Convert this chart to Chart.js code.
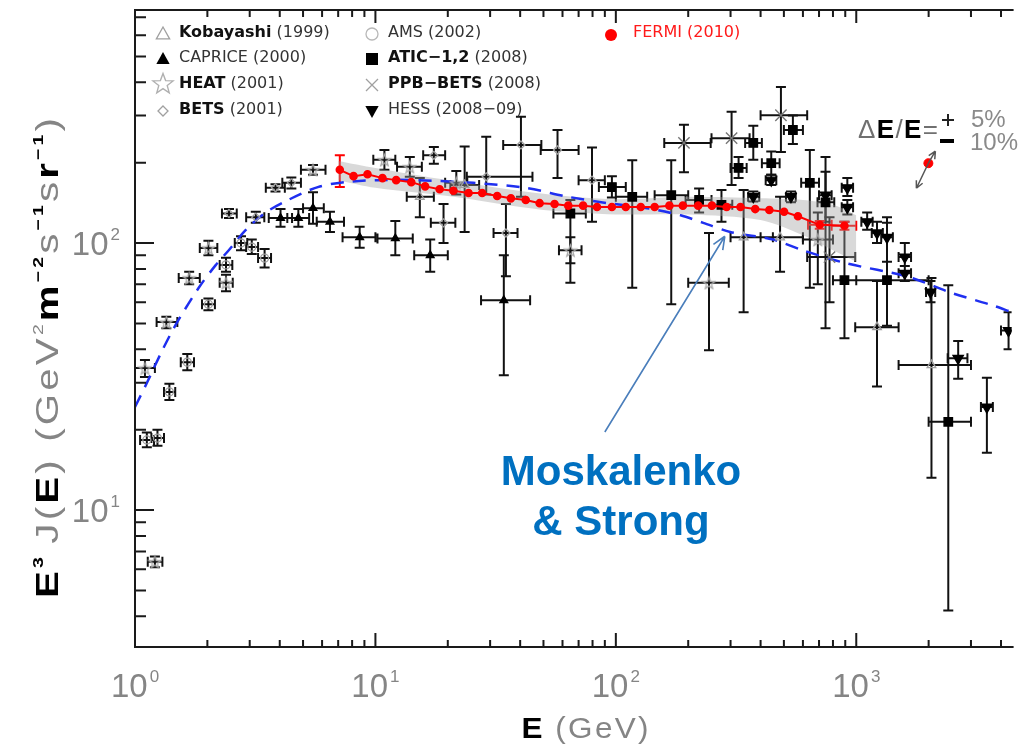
<!DOCTYPE html>
<html><head><meta charset="utf-8">
<script src="https://cdn.jsdelivr.net/npm/chart.js@4.4.1/dist/chart.umd.min.js"></script>
<style>html,body{margin:0;padding:0;background:#fff;overflow:hidden}canvas{display:block}</style>
</head><body>
<canvas id="c" width="1021" height="746"></canvas>
<script>
// ---- axis ticks ----
const xMajor = [1, 10, 100, 1000];
const xMinor = [2,3,4,5,6,7,8,9,20,30,40,50,60,70,80,90,200,300,400,500,600,700,800,900,2000,3000,4000];
const yMajor = [10, 100];
const yMinor = [4,5,6,7,8,9,20,30,40,50,60,70,80,90,200,300,400,500,600,700];
const xTickExp = ['0','1','2','3'];
const yTickExp = ['1','2'];

// ---- data rows: [E, E3J, Elo, Ehi, lo, hi] ----
const kobayashi = [
 [15.3,149,13.5,17.5,125,175],
 [23.5,165,20.5,27,110,230],
 [340,105,300,450,55,158],
 [482,105,400,600,78,149],
 [1220,48.4,990,1500,29,72],
 [2055,34.9,1500,3000,13.2,74]
];
const caprice = [
 [4.03,124,3.6,4.5,115,134],
 [4.78,124,4.3,5.3,115,134],
 [5.5,135,5.0,6.1,118,155],
 [6.47,120,5.7,7.4,110,131],
 [8.6,105,7.3,10.0,96,115],
 [12.1,104,10.2,14.3,90,121],
 [16.9,90,14.5,20,78,103],
 [34.2,61,27.5,44,32,90]
];
const heat = [
 [1.10,34,1.0,1.21,31.5,36.5],
 [1.21,6.4,1.13,1.30,6.1,6.7],
 [1.35,50.6,1.23,1.50,48,53],
 [1.68,74,1.52,1.86,70,78],
 [2.02,95.8,1.86,2.2,90,102],
 [2.39,71,2.25,2.55,66,76],
 [5.5,188,4.9,6.2,180,196],
 [10.9,205,9.8,12.1,188,223],
 [13.9,193,12.3,15.6,177,210],
 [21.7,168,19.5,24.1,152,186],
 [64.7,94,58,72,84,105],
 [244,71,200,295,39.7,109],
 [692,103,600,800,70,130]
];
const bets = [
 [2.46,129,2.3,2.65,124,134],
 [3.18,125,2.9,3.45,119,131],
 [3.84,161,3.5,4.2,156,166],
 [4.47,168,4.1,4.9,160,176],
 [17.5,213,15.8,19.5,198,229],
 [19.2,119,17,21.5,100,140],
 [28.9,177,24,45,152,250],
 [34.9,109,31,39,75,140],
 [40.3,233,34,49,149,297],
 [57.2,223,48.7,70,175,265],
 [79.6,172,70,90,120,228]
];
const ams = [
 [1.12,18.3,1.05,1.2,17.2,19.5],
 [1.24,18.6,1.17,1.32,17.4,20],
 [1.39,27.7,1.32,1.47,25.8,29.7],
 [1.65,35.8,1.55,1.76,33.4,38.4],
 [2.02,59,1.9,2.15,56,62],
 [2.39,82.8,2.25,2.54,78,88],
 [2.76,100,2.6,2.93,94,106],
 [3.06,96.6,2.9,3.25,91,103],
 [3.46,87.8,3.25,3.68,81,95]
];
const atic = [
 [64.7,129,55,75,71,145],
 [96.3,162,85,110,148,178],
 [117,149,100,135,68,204],
 [170,151,145,200,59,204],
 [222,145,195,250,130,160],
 [275,139,250,305,120,158],
 [324,191,300,350,175,210],
 [373,237,345,405,205,275],
 [443,199,405,480,180,220],
 [545,265,500,600,235,300],
 [641,168,590,700,68,223],
 [745,142,690,810,48,210],
 [893,72.6,800,1000,44,120],
 [1342,72.6,800,2000,49,119],
 [2414,21.4,2000,3000,4.2,69.5]
];
const ppb = [
 [192,237,159,248,184,277],
 [303,247,250,360,165,310],
 [486,301,400,625,219,384],
 [774,88.6,625,990,60,125]
];
const hess = [
 [373,149,355,395,143,156],
 [443,172,420,465,165,180],
 [535,149,510,560,142,156],
 [745,151,700,790,120,185],
 [918,161,870,970,150,175],
 [918,136,870,970,128,145],
 [1110,120,1050,1170,112,130],
 [1220,109,1160,1290,100,120],
 [1342,105,1270,1420,85,125],
 [1592,88.6,1500,1690,78,100],
 [1592,77,1500,1690,72,82],
 [2036,65.5,1950,2130,60,72],
 [2654,37,2400,2900,31,43],
 [3494,24.3,3300,3700,16.4,31.3],
 [4300,47,4000,4600,40,55]
];
// Fermi 2010
const fermiE = [7.11,8.11,9.27,10.7,12.2,14.1,16.1,18.5,21.1,24.4,27.8,32.1,36.6,42.2,48.2,55.6,63.4,73.1,83.5,96.3,110,127,145,167,190,220,251,289,330,380,435,501,572,705,893];
const fermiV = [188,178,181,175,172,169,163,159,157,154,154,150,147,145,141,140,138,138,136.5,136.5,136.5,136.5,136.5,138,138,138,138,136.5,136.5,134,133,131,126,117,116];
const fermiErr = [
 [7.11,188,7.11,7.11,162,213],
 [705,117,630,790,113,121],
 [893,116,790,1000,112,120]
];
const fermiShift = [[1995,199]];
// systematic band
const bandE  = [7,10,20,50,100,200,400,600,800,1000];
const bandHi = [203,191,172,153,146,149,147,145,139,127];
const bandLo = [172,161,150,133,128,128,122,107,94,85];
// Moskalenko & Strong model
const msE = [1.0,1.12,1.30,1.49,1.85,2.17,2.46,2.89,3.49,4.34,5.76,7.45,10.2,14.9,25.5,42.0,63.2,92.5,135,186,231,299,451,595,903,1654,2494,3650,4430];
const msV = [24.3,29.9,39.7,50.1,68.4,82.8,94.2,112,130,145,162,169,172,172,168,161,149,141,135,127,119,110,103,94.1,84.1,74.6,65,58.6,55.1];
// annotation arrow (data coords)
const arrowFrom = [90, 19.6];
const arrowTo = [284, 106];

// ---- marker helpers ----
function starCanvas(size, color, lw){
  const c = document.createElement('canvas'); c.width = c.height = size;
  const g = c.getContext('2d'); g.strokeStyle = color; g.lineWidth = lw; g.lineJoin='miter';
  const cx = size/2, cy = size/2 + size*0.05, R = size/2 - lw, r = R*0.42;
  g.beginPath();
  for (let i=0;i<10;i++){ const a=-Math.PI/2+i*Math.PI/5; const rr=i%2?r:R; g.lineTo(cx+rr*Math.cos(a), cy+rr*Math.sin(a)); }
  g.closePath(); g.stroke(); return c;
}
const starSmall = starCanvas(15, '#a8a8a8', 1.3);
const starBig = starCanvas(24, '#b0b0b0', 1.4);

const toPts = rows => rows.map(r => ({x:r[0], y:r[1]}));
const gray = '#a0a0a0';

function marker(ctx, style, x, y, r, fill, stroke, rot){
  ctx.save(); ctx.translate(x,y); if(rot) ctx.rotate(rot*Math.PI/180);
  ctx.beginPath();
  if (style==='triangle'){ ctx.moveTo(0,-r); ctx.lineTo(r*0.95,r*0.7); ctx.lineTo(-r*0.95,r*0.7); ctx.closePath(); }
  else if (style==='rect'){ ctx.rect(-r,-r,2*r,2*r); }
  else if (style==='rectRot'){ ctx.moveTo(0,-r); ctx.lineTo(r,0); ctx.lineTo(0,r); ctx.lineTo(-r,0); ctx.closePath(); }
  else if (style==='circle'){ ctx.arc(0,0,r,0,Math.PI*2); }
  else if (style==='crossRot'){ ctx.moveTo(-r,-r); ctx.lineTo(r,r); ctx.moveTo(r,-r); ctx.lineTo(-r,r); }
  if (fill){ ctx.fillStyle=fill; ctx.fill(); }
  if (stroke){ ctx.strokeStyle=stroke; ctx.lineWidth=1.3; ctx.stroke(); }
  ctx.restore();
}

function drawErr(ctx, xs, ys, rows, color){
  ctx.strokeStyle = color; ctx.lineWidth = 2; const cap = 5;
  ctx.beginPath();
  for (const r of rows){
    const px = xs.getPixelForValue(r[0]), py = ys.getPixelForValue(r[1]);
    const x1 = xs.getPixelForValue(r[2]), x2 = xs.getPixelForValue(r[3]);
    const y1 = ys.getPixelForValue(r[4]), y2 = ys.getPixelForValue(r[5]);
    if (x2-x1 > 1){ ctx.moveTo(x1,py); ctx.lineTo(x2,py); ctx.moveTo(x1,py-cap); ctx.lineTo(x1,py+cap); ctx.moveTo(x2,py-cap); ctx.lineTo(x2,py+cap); }
    if (y1-y2 > 1){ ctx.moveTo(px,y1); ctx.lineTo(px,y2); ctx.moveTo(px-cap,y1); ctx.lineTo(px+cap,y1); ctx.moveTo(px-cap,y2); ctx.lineTo(px+cap,y2); }
  }
  ctx.stroke();
}

// rich text: fixed glyph scale k, remaining length distributed as letter spacing
function drawRich(ctx, segs, x, y, target, align, k){
  k = k || 1;
  let w = 0, n = 0;
  for (const s of segs){ ctx.font = s.f; s.w = ctx.measureText(s.t).width + (s.gap||0); w += s.w; n += s.t.length; }
  let ls = target ? (target/k - w) / Math.max(1, n-1) : 0;
  if (ls < 0){ k = target/w; ls = 0; }
  const total = w + ls*(n-1);
  ctx.save(); ctx.translate(x,y); ctx.scale(k,1);
  let cx = align==='center' ? -total/2 : 0;
  ctx.textBaseline = 'alphabetic'; ctx.textAlign = 'left';
  for (const s of segs){
    ctx.font = s.f; ctx.fillStyle = s.c;
    for (const ch of s.t){ ctx.fillText(ch, cx, s.dy||0); cx += ctx.measureText(ch).width + ls; }
    cx += (s.gap||0);
  }
  ctx.restore();
}

const F = 'Liberation Sans, Arial, sans-serif';
const LF = 'DejaVu Sans, sans-serif';

const framePlugin = {
  id: 'frame',
  beforeDatasetsDraw(chart){
    const ctx = chart.ctx, xs = chart.scales.x, ys = chart.scales.y, ca = chart.chartArea;
    ctx.save();
    ctx.beginPath(); ctx.rect(ca.left, ca.top, ca.right-ca.left, ca.bottom-ca.top); ctx.clip();
    for (const rows of [kobayashi, caprice, heat, bets, ams, atic, ppb, hess]) drawErr(ctx, xs, ys, rows, '#111');
    drawErr(ctx, xs, ys, fermiErr, '#ff0000');
    ctx.restore();
  },
  afterDraw(chart){
    const ctx = chart.ctx, xs = chart.scales.x, ys = chart.scales.y, ca = chart.chartArea;
    ctx.save();
    // frame
    ctx.strokeStyle = '#1a1a1a'; ctx.lineWidth = 2;
    ctx.beginPath();
    ctx.moveTo(ca.right+2, ca.top); ctx.lineTo(ca.left, ca.top); ctx.lineTo(ca.left, ca.bottom); ctx.lineTo(ca.right+2, ca.bottom);
    ctx.stroke();
    // ticks
    ctx.beginPath();
    for (const v of xMajor){ const p = xs.getPixelForValue(v); ctx.moveTo(p, ca.bottom); ctx.lineTo(p, ca.bottom-14); ctx.moveTo(p, ca.top); ctx.lineTo(p, ca.top+13); }
    for (const v of xMinor){ const p = xs.getPixelForValue(v); ctx.moveTo(p, ca.bottom); ctx.lineTo(p, ca.bottom-7); ctx.moveTo(p, ca.top); ctx.lineTo(p, ca.top+7); }
    for (const v of yMajor){ const p = ys.getPixelForValue(v); ctx.moveTo(ca.left, p); ctx.lineTo(ca.left+19, p); }
    for (const v of yMinor){ const p = ys.getPixelForValue(v); ctx.moveTo(ca.left, p); ctx.lineTo(ca.left+11, p); }
    ctx.stroke();
    // tick labels
    ctx.fillStyle = '#858585'; ctx.textBaseline = 'alphabetic';
    xMajor.forEach((v,i)=>{
      const p = xs.getPixelForValue(v);
      ctx.font = '33px '+F; const w10 = ctx.measureText('10').width;
      ctx.font = '17px '+F; const we = ctx.measureText(xTickExp[i]).width;
      const left = p - (w10+we+2)/2;
      ctx.font = '33px '+F; ctx.textAlign='left'; ctx.fillText('10', left, 697);
      ctx.font = '17px '+F; ctx.fillText(xTickExp[i], left+w10+2, 682);
    });
    yMajor.forEach((v,i)=>{
      const p = ys.getPixelForValue(v);
      ctx.font = '17px '+F; const we = ctx.measureText(yTickExp[i]).width;
      ctx.font = '33px '+F; const w10 = ctx.measureText('10').width;
      const right = 120;
      ctx.textAlign='left';
      ctx.fillText('10', right-we-2-w10, p+12);
      ctx.font = '17px '+F; ctx.fillText(yTickExp[i], right-we, p-3);
    });
    // x title
    drawRich(ctx, [
      {t:'E', f:'bold 30px '+F, c:'#000', gap:10},
      {t:'(GeV)', f:'30px '+F, c:'#858585'}
    ], 585, 738, 127, 'center', 1.05);
    // y title
    ctx.save(); ctx.translate(47, 358); ctx.rotate(-Math.PI/2);
    drawRich(ctx, [
      {t:'E', f:'bold 31px '+F, c:'#000'},
      {t:'3', f:'bold 15px '+F, c:'#000', dy:-15, gap:8},
      {t:'J(', f:'31px '+F, c:'#858585'},
      {t:'E', f:'bold 31px '+F, c:'#000'},
      {t:')', f:'31px '+F, c:'#858585', gap:12},
      {t:'(GeV', f:'31px '+F, c:'#858585'},
      {t:'2', f:'15px '+F, c:'#858585', dy:-15},
      {t:'m', f:'bold 31px '+F, c:'#000'},
      {t:'\u22122', f:'bold 15px '+F, c:'#000', dy:-15},
      {t:'s', f:'31px '+F, c:'#858585'},
      {t:'\u22121', f:'bold 15px '+F, c:'#000', dy:-15},
      {t:'s', f:'31px '+F, c:'#858585'},
      {t:'r', f:'bold 31px '+F, c:'#000'},
      {t:'\u22121', f:'bold 15px '+F, c:'#000', dy:-15},
      {t:')', f:'31px '+F, c:'#858585'}
    ], 0, 11, 480, 'center', 1.3);
    ctx.restore();

    // legend
    const rows = [
      [163, 33, 'triangle', null, gray, 0, 7, 'Kobayashi', true, ' (1999)'],
      [163, 58, 'triangle', '#000', null, 0, 7, 'CAPRICE', false, ' (2000)'],
      [163, 84, 'star', null, null, 0, 0, 'HEAT', true, ' (2001)'],
      [163, 110, 'rectRot', null, gray, 0, 5, 'BETS', true, ' (2001)'],
      [372, 33, 'circle', null, '#b8b8b8', 0, 6, 'AMS', false, ' (2002)'],
      [372, 58, 'rect', '#000', null, 0, 6, 'ATIC\u22121,2', true, ' (2008)'],
      [372, 84, 'crossRot', null, gray, 0, 6, 'PPB\u2212BETS', true, ' (2008)'],
      [372, 110, 'triangle', '#000', null, 180, 7, 'HESS', false, ' (2008\u221209)']
    ];
    ctx.textBaseline = 'middle'; ctx.textAlign = 'left';
    for (const r of rows){
      if (r[2]==='star') ctx.drawImage(starBig, r[0]-12, r[1]-13);
      else marker(ctx, r[2], r[0], r[1]+1, r[6], r[3], r[4], r[5]);
      ctx.font = (r[8]?'bold ':'')+'16px '+LF; ctx.fillStyle = r[8]?'#111':'#333';
      const tx = r[0] + 16;
      ctx.fillText(r[7], tx, r[1]);
      const w = ctx.measureText(r[7]).width;
      ctx.font = '16px '+LF; ctx.fillStyle = '#333';
      ctx.fillText(r[9], tx+w, r[1]);
    }
    marker(ctx, 'circle', 611, 35, 6, '#ff0000', null, 0);
    ctx.font = '16px '+LF; ctx.fillStyle = '#ff1a1a'; ctx.fillText('FERMI (2010)', 633, 33);

    // Delta E / E annotation
    drawRich(ctx, [
      {t:'\u0394', f:'26px '+F, c:'#707070'},
      {t:'E', f:'bold 26px '+F, c:'#000'},
      {t:'/', f:'26px '+F, c:'#707070'},
      {t:'E', f:'bold 26px '+F, c:'#000'},
      {t:'=', f:'26px '+F, c:'#707070'}
    ], 858, 138, 80, 'left', 1);
    ctx.strokeStyle = '#222'; ctx.lineWidth = 2;
    ctx.beginPath(); ctx.moveTo(942,120); ctx.lineTo(954,120); ctx.moveTo(948,114); ctx.lineTo(948,126); ctx.stroke();
    ctx.fillStyle = '#000'; ctx.fillRect(940,139,14,4);
    ctx.font = '24px '+F; ctx.fillStyle = '#8a8a8a'; ctx.textBaseline='alphabetic';
    ctx.fillText('5%', 971, 127); ctx.fillText('10%', 970, 150);
    // shift arrows around the shifted Fermi point
    const sx = xs.getPixelForValue(fermiShift[0][0]), sy = ys.getPixelForValue(fermiShift[0][1]);
    ctx.strokeStyle = '#555'; ctx.lineWidth = 1.5;
    const arr = (x0,y0,x1,y1)=>{ ctx.beginPath(); ctx.moveTo(x0,y0); ctx.lineTo(x1,y1);
      const a = Math.atan2(y1-y0,x1-x0);
      ctx.moveTo(x1,y1); ctx.lineTo(x1-8*Math.cos(a-0.45), y1-8*Math.sin(a-0.45));
      ctx.moveTo(x1,y1); ctx.lineTo(x1-8*Math.cos(a+0.45), y1-8*Math.sin(a+0.45)); ctx.stroke(); };
    arr(sx, sy, sx+7, sy-12);
    arr(sx, sy, sx-12, sy+25);

    // Moskalenko & Strong annotation
    const ax0 = xs.getPixelForValue(arrowFrom[0]), ay0 = ys.getPixelForValue(arrowFrom[1]);
    const ax1 = xs.getPixelForValue(arrowTo[0]), ay1 = ys.getPixelForValue(arrowTo[1]);
    ctx.strokeStyle = '#4a7ebb'; ctx.lineWidth = 1.6;
    ctx.beginPath(); ctx.moveTo(ax0,ay0); ctx.lineTo(ax1,ay1);
    const a = Math.atan2(ay1-ay0, ax1-ax0);
    ctx.moveTo(ax1,ay1); ctx.lineTo(ax1-14*Math.cos(a-0.4), ay1-14*Math.sin(a-0.4));
    ctx.moveTo(ax1,ay1); ctx.lineTo(ax1-14*Math.cos(a+0.4), ay1-14*Math.sin(a+0.4));
    ctx.stroke();
    ctx.fillStyle = '#0070c0'; ctx.font = 'bold 42px '+F; ctx.textAlign = 'center'; ctx.textBaseline='alphabetic';
    ctx.fillText('Moskalenko', 621, 485);
    ctx.fillText('& Strong', 621, 535);
    ctx.restore();
  }
};

const ds = (label, rows, style, bg, border, radius, extra) => Object.assign({
  label, data: toPts(rows), pointStyle: style, backgroundColor: bg, borderColor: border,
  pointBackgroundColor: bg, pointBorderColor: border, pointRadius: radius, pointBorderWidth: 1.3, showLine: false
}, extra||{});

new Chart(document.getElementById('c'), {
  type: 'scatter',
  data: {
    datasets: [
      { label:'FERMI (2010)', data: fermiE.map((e,i)=>({x:e, y:fermiV[i]})), showLine:true, borderColor:'#ff0000', backgroundColor:'#ff0000',
        pointBackgroundColor:'#ff0000', pointBorderColor:'#ff0000', borderWidth:2, pointRadius:3.3, pointStyle:'circle', tension:0 },
      { label:'FERMI shifted', data: fermiShift.map(r=>({x:r[0], y:r[1]})), pointRadius:4.5, backgroundColor:'#ff0000', borderColor:'#ff0000', pointStyle:'circle' },
      ds('HESS (2008-09)', hess, 'triangle', '#000', '#000', 6, {pointRotation:180}),
      ds('ATIC-1,2 (2008)', atic, 'rect', '#000', '#000', 6),
      ds('CAPRICE (2000)', caprice, 'triangle', '#000', '#000', 4.5),
      ds('PPB-BETS (2008)', ppb, 'crossRot', 'rgba(0,0,0,0)', '#777', 8, {pointBorderWidth:1.4}),
      ds('HEAT (2001)', heat, starSmall, 'rgba(0,0,0,0)', gray, 7),
      ds('BETS (2001)', bets, 'rectRot', 'rgba(0,0,0,0)', gray, 4),
      ds('AMS (2002)', ams, 'circle', 'rgba(0,0,0,0)', gray, 4),
      ds('Kobayashi (1999)', kobayashi, 'triangle', 'rgba(0,0,0,0)', gray, 5),
      { label:'Moskalenko & Strong', data: msE.map((e,i)=>({x:e, y:msV[i]})), showLine:true, borderColor:'#1f2ff0',
        borderDash:[13,9], borderWidth:2.5, pointRadius:0, tension:0.3 },
      { label:'band hi', data: bandE.map((e,i)=>({x:e, y:bandHi[i]})), showLine:true, borderWidth:0, borderColor:'rgba(0,0,0,0)', pointRadius:0, tension:0.3 },
      { label:'band lo', data: bandE.map((e,i)=>({x:e, y:bandLo[i]})), showLine:true, borderWidth:0, borderColor:'rgba(0,0,0,0)', pointRadius:0, tension:0.3,
        fill:'-1', backgroundColor:'rgba(160,160,160,0.4)' }
    ]
  },
  options: {
    responsive: false, animation: false,
    layout: { padding: { left:135, top:10, right:0, bottom:99 } },
    plugins: { legend:{display:false}, tooltip:{enabled:false}, filler:{propagate:false} },
    scales: {
      x: { type:'logarithmic', min:1, max:4427, display:false, bounds:'data' },
      y: { type:'logarithmic', min:3.069, max:745.9, display:false, bounds:'data' }
    }
  },
  plugins: [framePlugin]
});
</script>
</body></html>
